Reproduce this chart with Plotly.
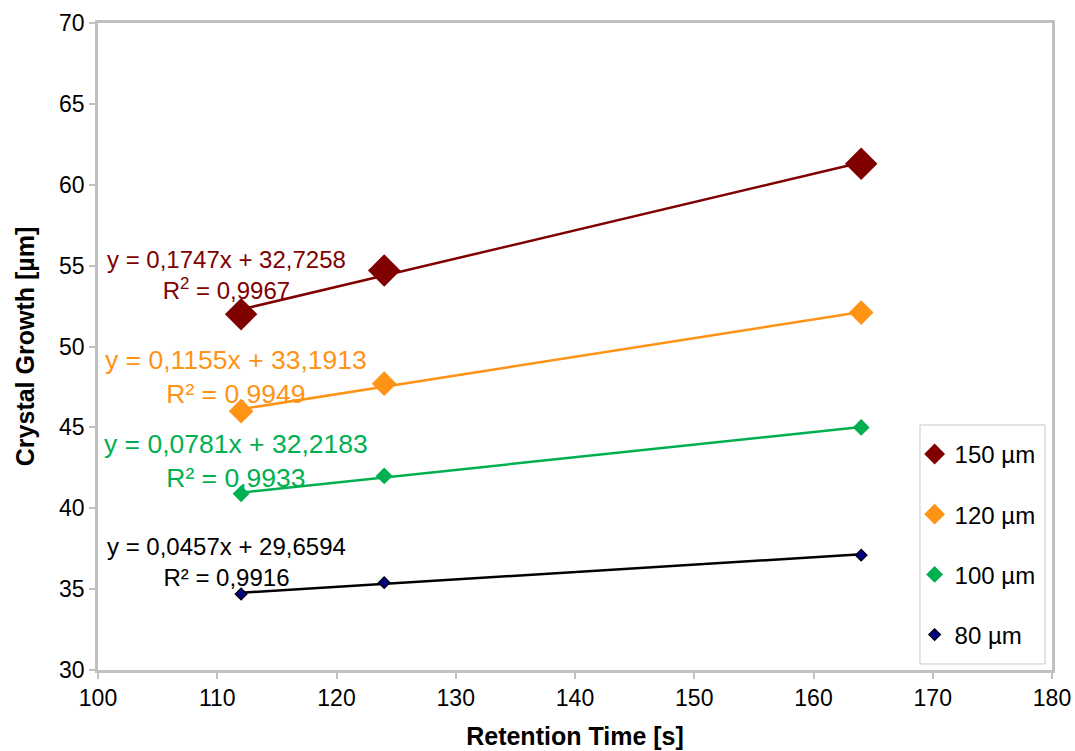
import numpy as np
import plotly.graph_objects as go

# Retention time [s] for each run
retention_time = [112, 124, 164]

# Measured crystal growth [µm] per seed size
series_names = ["150 µm", "120 µm", "100 µm", "80 µm"]
growth_150 = [52.0, 54.7, 61.3]
growth_120 = [46.0, 47.7, 52.1]
growth_100 = [40.9, 42.0, 45.0]
growth_80 = [34.7, 35.4, 37.1]

# Linear trendline coefficients (slope, intercept) and R² per series
slopes = [0.1747, 0.1155, 0.0781, 0.0457]
intercepts = [32.7258, 33.1913, 32.2183, 29.6594]
r_squared = ["0,9967", "0,9949", "0,9933", "0,9916"]

series_values = [growth_150, growth_120, growth_100, growth_80]
marker_colors = ["#800000", "#FF9316", "#00B050", "#000080"]
line_colors = ["#800000", "#FF9316", "#00B050", "#000000"]
marker_sizes = [25, 19, 13, 9]
marker_borders = [0, 0, 0, 1.2]

# Equation label placement (data coordinates of the label block centre) and size
label_x = [110.75, 111.55, 111.55, 110.75]
label_y = [54.45, 48.1, 42.9, 36.7]
label_sizes = [24, 26.5, 26.5, 24]

font_family = "Arial, Liberation Sans, sans-serif"

fig = go.Figure()

# Trendlines over the fitted range
x_fit = np.array([min(retention_time), max(retention_time)])
for i, name in enumerate(series_names):
    fig.add_trace(go.Scatter(
        x=x_fit,
        y=slopes[i] * x_fit + intercepts[i],
        mode="lines",
        line=dict(color=line_colors[i], width=2.5),
        showlegend=False,
        hoverinfo="skip",
    ))

# Data points
for i, name in enumerate(series_names):
    fig.add_trace(go.Scatter(
        x=retention_time,
        y=series_values[i],
        mode="markers",
        name=name,
        legendgroup=name,
        marker=dict(symbol="diamond", size=marker_sizes[i], color=marker_colors[i],
                    line=dict(color="#000000", width=marker_borders[i])),
    ))

# Trendline equations
for i in range(len(series_names)):
    sl = f"{slopes[i]:.4f}".replace(".", ",")
    ic = f"{intercepts[i]:.4f}".replace(".", ",")
    r_label = "R<sup>2</sup>" if i == 0 else "R²"
    fig.add_annotation(
        x=label_x[i], y=label_y[i], xref="x", yref="y",
        text=f"y = {sl}x + {ic}<br>{r_label} = {r_squared[i]}",
        showarrow=False, align="center", xanchor="center", yanchor="middle",
        font=dict(family=font_family, size=label_sizes[i], color=line_colors[i]),
    )

# Legend frame
fig.add_shape(
    type="rect", xref="paper", yref="paper",
    x0=0.8616, x1=0.9927, y0=0.0093, y1=0.3787,
    line=dict(color="#C8C8C8", width=1), fillcolor="white", layer="above",
)

axis_common = dict(
    showgrid=False, zeroline=False, automargin=False,
    showline=True, linecolor="#C0C0C0", linewidth=2.5, mirror=True,
    ticks="outside", ticklen=6, tickcolor="#C0C0C0", tickwidth=1.5,
    tickfont=dict(family=font_family, size=23, color="#000000"),
)

fig.update_xaxes(
    range=[100, 180], dtick=10, tick0=100,
    title=dict(text="<b>Retention Time [s]</b>", standoff=18,
               font=dict(family=font_family, size=25, color="#000000")),
    **axis_common,
)
fig.update_yaxes(
    range=[30, 70], dtick=5, tick0=30,
    title=dict(text="<b>Crystal Growth [µm]</b>", standoff=18,
               font=dict(family=font_family, size=25, color="#000000")),
    **axis_common,
)

fig.update_layout(
    width=1075, height=751,
    margin=dict(l=98, r=23, t=23, b=81),
    paper_bgcolor="white", plot_bgcolor="white",
    font=dict(family=font_family, color="#000000"),
    legend=dict(
        x=0.856, y=0.368, xanchor="left", yanchor="top",
        bgcolor="rgba(0,0,0,0)", borderwidth=0,
        font=dict(family=font_family, size=24, color="#000000"),
        tracegroupgap=26, itemwidth=30,
    ),
)

fig.write_html("out.html")
